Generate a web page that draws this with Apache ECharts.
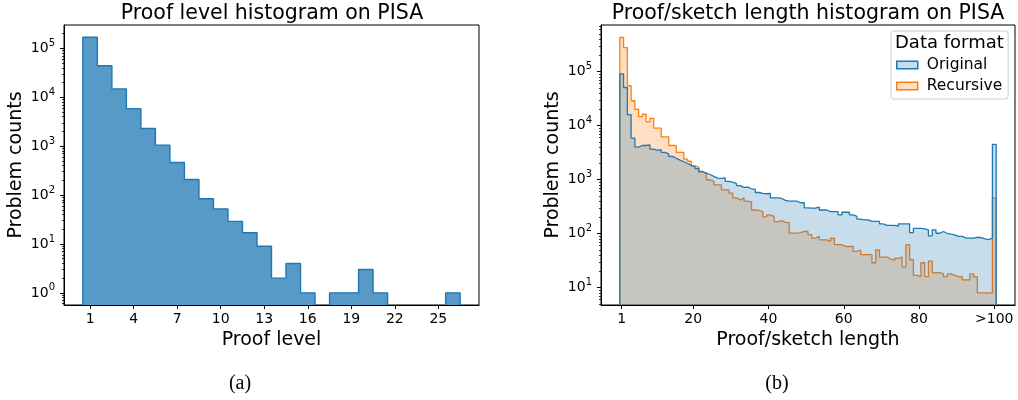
<!DOCTYPE html>
<html><head><meta charset="utf-8">
<script src="https://cdn.jsdelivr.net/npm/echarts@6/dist/echarts.min.js"></script>
<style>html,body{margin:0;padding:0;background:#fff}#c{width:1018px;height:400px}</style>
</head><body><div id="c"></div>
<script>
// ---------- data ----------
const proofLevels = [1,2,3,4,5,6,7,8,9,10,11,12,13,14,15,16,17,18,19,20,21,22,23,24,25,26];
const proofLevelCounts = [168000,44200,14800,5850,2290,1050,462,208,84,52,29,17,9,2,4,1,0,1,1,3,1,0,0,0,0,1];
const levelTicks = [1,4,7,10,13,16,19,22,25];

// bin 100 stands for ">100"
const lengthBins = [1,2,3,4,5,6,7,8,9,10,11,12,13,14,15,16,17,18,19,20,
  21,22,23,24,25,26,27,28,29,30,31,32,33,34,35,36,37,38,39,40,
  41,42,43,44,45,46,47,48,49,50,51,52,53,54,55,56,57,58,59,60,
  61,62,63,64,65,66,67,68,69,70,71,72,73,74,75,76,77,78,79,80,
  81,82,83,84,85,86,87,88,89,90,91,92,93,94,95,96,97,98,99,100];
const originalCounts = [91000,51000,16000,5900,4000,4300,4300,4400,3700,3500,
  3600,3200,3000,2700,2500,2300,2150,2000,1850,1750,
  1600,1420,1320,1250,1150,1070,1060,1080,930,900,
  850,780,720,730,680,660,580,560,550,560,
  460,460,450,415,400,400,400,375,375,300,
  298,298,310,275,275,257,257,257,223,250,
  250,224,209,187,181,181,169,169,169,152,
  143,143,143,138,152,152,152,105,126,126,
  123,118,91,118,102,110,102,98,95,89,
  89,83,83,83,86,85,80,78,83,4530];
const recursiveCounts = [430000,280000,55000,29000,20000,14700,16300,11800,13700,9000,
  9000,6200,6200,4300,4300,3200,3200,2400,2200,1800,
  1700,1400,1300,1000,930,800,800,650,650,565,
  460,425,460,400,390,275,270,257,205,224,
  210,168,175,162,160,103,103,105,110,110,
  96,83,89,77,77,72,83,63,63,58,
  58,58,47,50,41,41,41,29,50,37,
  37,34,32,35,37,24,63,33,17,16,
  29,16,31,19,19,18,16,18,17,16,
  16,14,14,18,16,8,8,8,8,457];
const lengthTicks = [1,20,40,60,80,100];
const lengthTickLabels = ['1','20','40','60','80','>100'];
const logMajorTicks = [1,10,100,1000,10000,100000];

// ---------- helpers ----------
const F = 'DejaVu Sans';
const FLOOR = 1e-3;
function steps(bins, counts){
  const pts = [[bins[0]-0.5, FLOOR]];
  bins.forEach((b,i)=>pts.push([b+0.5, counts[i]>0?counts[i]:FLOOR]));
  pts.push([bins[bins.length-1]+0.5, FLOOR]);
  return pts;
}
function minorTicks(lo, hi){
  const out=[];
  for(let e=-1;e<=6;e++) for(let m=2;m<=9;m++){const v=m*Math.pow(10,e); if(v>lo&&v<hi) out.push(+v.toPrecision(3));}
  return out;
}
const supRich = {
  b:{fontSize:14,fontFamily:F,color:'#000',verticalAlign:'bottom',lineHeight:14},
  s:{fontSize:10,fontFamily:F,color:'#000',verticalAlign:'bottom',lineHeight:10,padding:[0,0,7,0]}
};
function logLabel(v){ return '{b|10}{s|'+Math.round(Math.log10(v))+'}'; }

const L = {min:0.565, max:300000};
const R = {min:4.79, max:733000};
const axisLine = {show:true, onZero:false, lineStyle:{color:'#000', width:1}};
function xAx(grid, min, max, ticks, fmt, name){
  return {gridIndex:grid, type:'value', min, max, z:5,
    axisLine, splitLine:{show:false},
    axisTick:{show:true, customValues:ticks, length:4, lineStyle:{color:'#000'}},
    axisLabel:{customValues:ticks, formatter:fmt, margin:7, fontSize:14, fontFamily:F, color:'#000'},
    name, nameLocation:'middle', nameGap:25, nameTextStyle:{fontSize:19, fontFamily:F, color:'#000'}};
}
function yMajor(grid, ext){
  return {gridIndex:grid, type:'log', min:ext.min, max:ext.max, z:5, position:'left',
    axisLine, splitLine:{show:false},
    axisTick:{show:true, customValues:logMajorTicks, length:4, lineStyle:{color:'#000'}},
    axisLabel:{customValues:logMajorTicks, formatter:logLabel, rich:supRich, margin:9},
    name:'Problem counts', nameLocation:'middle', nameGap:38, nameTextStyle:{fontSize:19, fontFamily:F, color:'#000'}};
}
function yMinor(grid, ext){
  return {gridIndex:grid, type:'log', min:ext.min, max:ext.max, z:5, position:'left', offset:0,
    axisLine:{show:false, onZero:false}, splitLine:{show:false}, axisLabel:{show:false},
    axisTick:{show:true, customValues:minorTicks(ext.min, ext.max), length:2, lineStyle:{color:'#000', width:0.8}}};
}

const chart = echarts.init(document.getElementById('c'), null, {renderer:'canvas'});
chart.setOption({
  animation:false,
  backgroundColor:'#fff',
  grid:[
    {left:64, top:25, width:415, height:280, show:true, borderColor:'#000', borderWidth:1, backgroundColor:'transparent'},
    {left:601, top:25, width:414, height:280, show:true, borderColor:'#000', borderWidth:1, backgroundColor:'transparent'}
  ],
  xAxis:[
    xAx(0, -0.8, 27.8, levelTicks, v=>String(v), 'Proof level'),
    xAx(1, -4.5, 105.5, lengthTicks, v=>lengthTickLabels[lengthTicks.indexOf(v)] ?? String(v), 'Proof/sketch length')
  ],
  yAxis:[ yMajor(0, L), yMinor(0, L), yMajor(1, R), yMinor(1, R) ],
  legend:{
    data:[
      {name:'Original', itemStyle:{color:'rgba(31,119,180,0.25)', borderColor:'#1f77b4', borderWidth:1.5}},
      {name:'Recursive', itemStyle:{color:'rgba(255,127,14,0.25)', borderColor:'#ff7f0e', borderWidth:1.5}}
    ],
    icon:'rect', orient:'vertical', left:891, top:31, z:10,
    itemWidth:21, itemHeight:7.5, itemGap:3,
    padding:[25,6,4,5],
    textStyle:{fontFamily:F, fontSize:15.5, color:'#000', lineHeight:18, padding:[0,0,0,4]},
    backgroundColor:'rgba(255,255,255,0.8)', borderColor:'#cccccc', borderWidth:1, borderRadius:3,
    selectedMode:false
  },
  graphic:[
    {type:'text', z:100, style:{text:'Proof level histogram on PISA', x:272, y:13.5, align:'center', verticalAlign:'middle', font:'20.5px "DejaVu Sans"', fill:'#000'}},
    {type:'text', z:100, style:{text:'Proof/sketch length histogram on PISA', x:808, y:13.5, align:'center', verticalAlign:'middle', font:'20.5px "DejaVu Sans"', fill:'#000'}},
    {type:'text', z:100, style:{text:'Data format', x:895, y:43, align:'left', verticalAlign:'middle', font:'18px "DejaVu Sans"', fill:'#000'}},
    {type:'text', z:100, style:{text:'(a)', x:240, y:384, align:'center', verticalAlign:'middle', font:'20px "Liberation Serif"', fill:'#000'}},
    {type:'text', z:100, style:{text:'(b)', x:777, y:384, align:'center', verticalAlign:'middle', font:'20px "Liberation Serif"', fill:'#000'}}
  ],
  series:[
    {type:'line', name:'Proof level', xAxisIndex:0, yAxisIndex:0, data:steps(proofLevels, proofLevelCounts),
      step:'start', symbol:'none', silent:true, clip:true, z:2,
      lineStyle:{color:'#1f77b4', width:1.4}, areaStyle:{color:'#5799c7', opacity:1, origin:'start'}},
    {type:'line', name:'Recursive', xAxisIndex:1, yAxisIndex:2, data:steps(lengthBins, recursiveCounts),
      step:'start', symbol:'none', silent:true, clip:true, z:2,
      lineStyle:{color:'#ff7f0e', width:1.3}, areaStyle:{color:'rgba(255,127,14,0.25)', opacity:1, origin:'start'}},
    {type:'line', name:'Original', xAxisIndex:1, yAxisIndex:2, data:steps(lengthBins, originalCounts),
      step:'start', symbol:'none', silent:true, clip:true, z:3,
      lineStyle:{color:'#1f77b4', width:1.3}, areaStyle:{color:'rgba(31,119,180,0.25)', opacity:1, origin:'start'}}
  ]
});
</script></body></html>
